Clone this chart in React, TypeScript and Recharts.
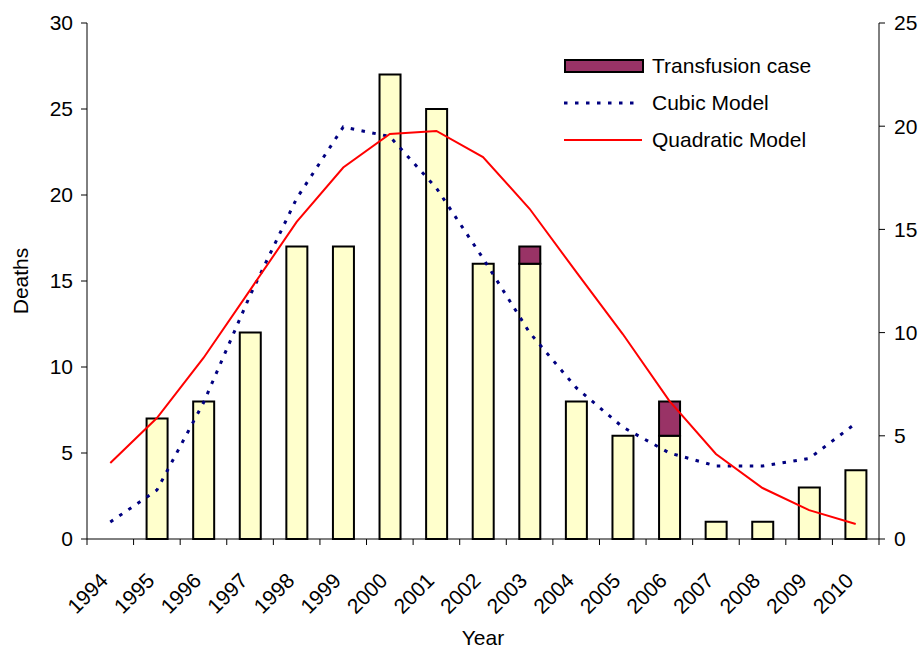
import React from "react";
import {
  ComposedChart,
  Bar,
  Line,
  XAxis,
  YAxis,
  Legend,
} from "recharts";

// Yıllar, ölüm sayıları ve iki model eğrisi (modeller sağ eksende)
const years = ["1994", "1995", "1996", "1997", "1998", "1999", "2000", "2001", "2002", "2003", "2004", "2005", "2006", "2007", "2008", "2009", "2010"];
const deaths = [null, 7, 8, 12, 17, 17, 27, 25, 16, 16, 8, 6, 6, 1, 1, 3, 4];
const transfusion = [null, null, null, null, null, null, null, null, null, 1, null, null, 2, null, null, null, null];
const cubicModel = [0.82, 2.37, 6.6, 11.8, 16.5, 19.96, 19.5, 17.0, 13.6, 10.0, 7.33, 5.42, 4.17, 3.54, 3.54, 3.9, 5.6];
const quadraticModel = [3.68, 5.86, 8.77, 12.06, 15.36, 18.0, 19.62, 19.77, 18.5, 16.0, 12.94, 9.93, 6.69, 4.12, 2.47, 1.4, 0.73];

const leftTicks = [0, 5, 10, 15, 20, 25, 30];
const rightTicks = [0, 5, 10, 15, 20, 25];
const legendOrder = ["transfusion", "cubic", "quadratic"];

const data = years.map((year, i) => ({
  year,
  deaths: deaths[i],
  transfusion: transfusion[i],
  cubic: cubicModel[i],
  quadratic: quadraticModel[i],
}));

const FONT = "'Liberation Sans', Arial, sans-serif";
const FS = 21;
const W = 923;
const H = 650;
const LEFT_W = 87;
const RIGHT_W = 44;
// kategori genişliği (tik çizgileri kategori sınırlarında)
const BAND = (W - LEFT_W - RIGHT_W) / years.length;

function YearTick(props: any) {
  const { x, y, payload, index } = props;
  const isLast = index === years.length - 1;
  return (
    <g>
      <line x1={x - BAND / 2} y1={y} x2={x - BAND / 2} y2={y + 6} stroke="#000" />
      {isLast && <line x1={x + BAND / 2} y1={y} x2={x + BAND / 2} y2={y + 6} stroke="#000" />}
      <g transform={`translate(${x - 1},${y + 43})`}>
        <text
          x={0}
          y={0}
          textAnchor="end"
          transform="rotate(-45)"
          fill="#000"
          fontSize={FS}
          fontFamily={FONT}
        >
          {payload.value}
        </text>
      </g>
    </g>
  );
}

function LegendSymbol({ dataKey }: { dataKey: string }) {
  if (dataKey === "transfusion") {
    return (
      <svg width={80} height={16}>
        <rect x={1} y={2} width={78} height={12} fill="#993366" stroke="#000" strokeWidth={2} />
      </svg>
    );
  }
  if (dataKey === "cubic") {
    return (
      <svg width={80} height={16}>
        <line x1={0} y1={8} x2={77} y2={8} stroke="#000080" strokeWidth={3} strokeDasharray="3.5 7.5" />
      </svg>
    );
  }
  return (
    <svg width={80} height={16}>
      <line x1={0} y1={8} x2={78} y2={8} stroke="#ff0000" strokeWidth={2} />
    </svg>
  );
}

function renderLegend(props: any) {
  const items = (props.payload || [])
    .filter((p: any) => legendOrder.includes(p.dataKey))
    .sort((a: any, b: any) => legendOrder.indexOf(a.dataKey) - legendOrder.indexOf(b.dataKey));
  return (
    <div style={{ fontFamily: FONT, fontSize: FS, color: "#000" }}>
      {items.map((p: any) => (
        <div key={p.dataKey} style={{ display: "flex", alignItems: "center", height: 37 }}>
          <LegendSymbol dataKey={p.dataKey} />
          <span style={{ marginLeft: 8, whiteSpace: "nowrap" }}>{p.value}</span>
        </div>
      ))}
    </div>
  );
}

export default function App() {
  return (
    <div style={{ position: "absolute", left: 0, top: 0, width: W, height: H, background: "#fff" }}>
      <ComposedChart
        width={W}
        height={H}
        data={data}
        margin={{ top: 23, right: 0, bottom: 0, left: 0 }}
        style={{ fontFamily: FONT }}
      >
        <XAxis
          dataKey="year"
          interval={0}
          tickLine={false}
          tickSize={0}
          tickMargin={0}
          axisLine={{ stroke: "#000" }}
          height={111}
          tick={<YearTick />}
          label={{ value: "Year", position: "insideBottom", offset: 5, fill: "#000", fontSize: FS }}
        />
        <YAxis
          yAxisId="left"
          domain={[0, 30]}
          ticks={leftTicks}
          width={LEFT_W}
          tickSize={6}
          tickMargin={8}
          axisLine={{ stroke: "#000" }}
          tickLine={{ stroke: "#000" }}
          tick={{ fill: "#000", fontSize: FS }}
          label={{ value: "Deaths", angle: -90, position: "center", dx: -23, fill: "#000", fontSize: FS }}
        />
        <YAxis
          yAxisId="right"
          orientation="right"
          domain={[0, 25]}
          ticks={rightTicks}
          width={RIGHT_W}
          tickSize={6}
          tickMargin={9}
          axisLine={{ stroke: "#000" }}
          tickLine={{ stroke: "#000" }}
          tick={{ fill: "#000", fontSize: FS, textAnchor: "start" }}
        />
        <Legend
          layout="vertical"
          align="center"
          verticalAlign="middle"
          content={renderLegend}
          wrapperStyle={{ left: 564, top: 47, width: 320 }}
        />
        <Bar
          yAxisId="left"
          dataKey="deaths"
          name="Deaths"
          stackId="d"
          fill="#ffffcc"
          stroke="#000"
          strokeWidth={2}
          barSize={21}
          isAnimationActive={false}
        />
        <Bar
          yAxisId="left"
          dataKey="transfusion"
          name="Transfusion case"
          stackId="d"
          fill="#993366"
          stroke="#000"
          strokeWidth={2}
          barSize={21}
          isAnimationActive={false}
        />
        <Line
          yAxisId="right"
          dataKey="cubic"
          name="Cubic Model"
          type="linear"
          stroke="#000080"
          strokeWidth={3}
          strokeDasharray="3.5 7.5"
          dot={false}
          activeDot={false}
          isAnimationActive={false}
        />
        <Line
          yAxisId="right"
          dataKey="quadratic"
          name="Quadratic Model"
          type="linear"
          stroke="#ff0000"
          strokeWidth={2}
          dot={false}
          activeDot={false}
          isAnimationActive={false}
        />
      </ComposedChart>
    </div>
  );
}
